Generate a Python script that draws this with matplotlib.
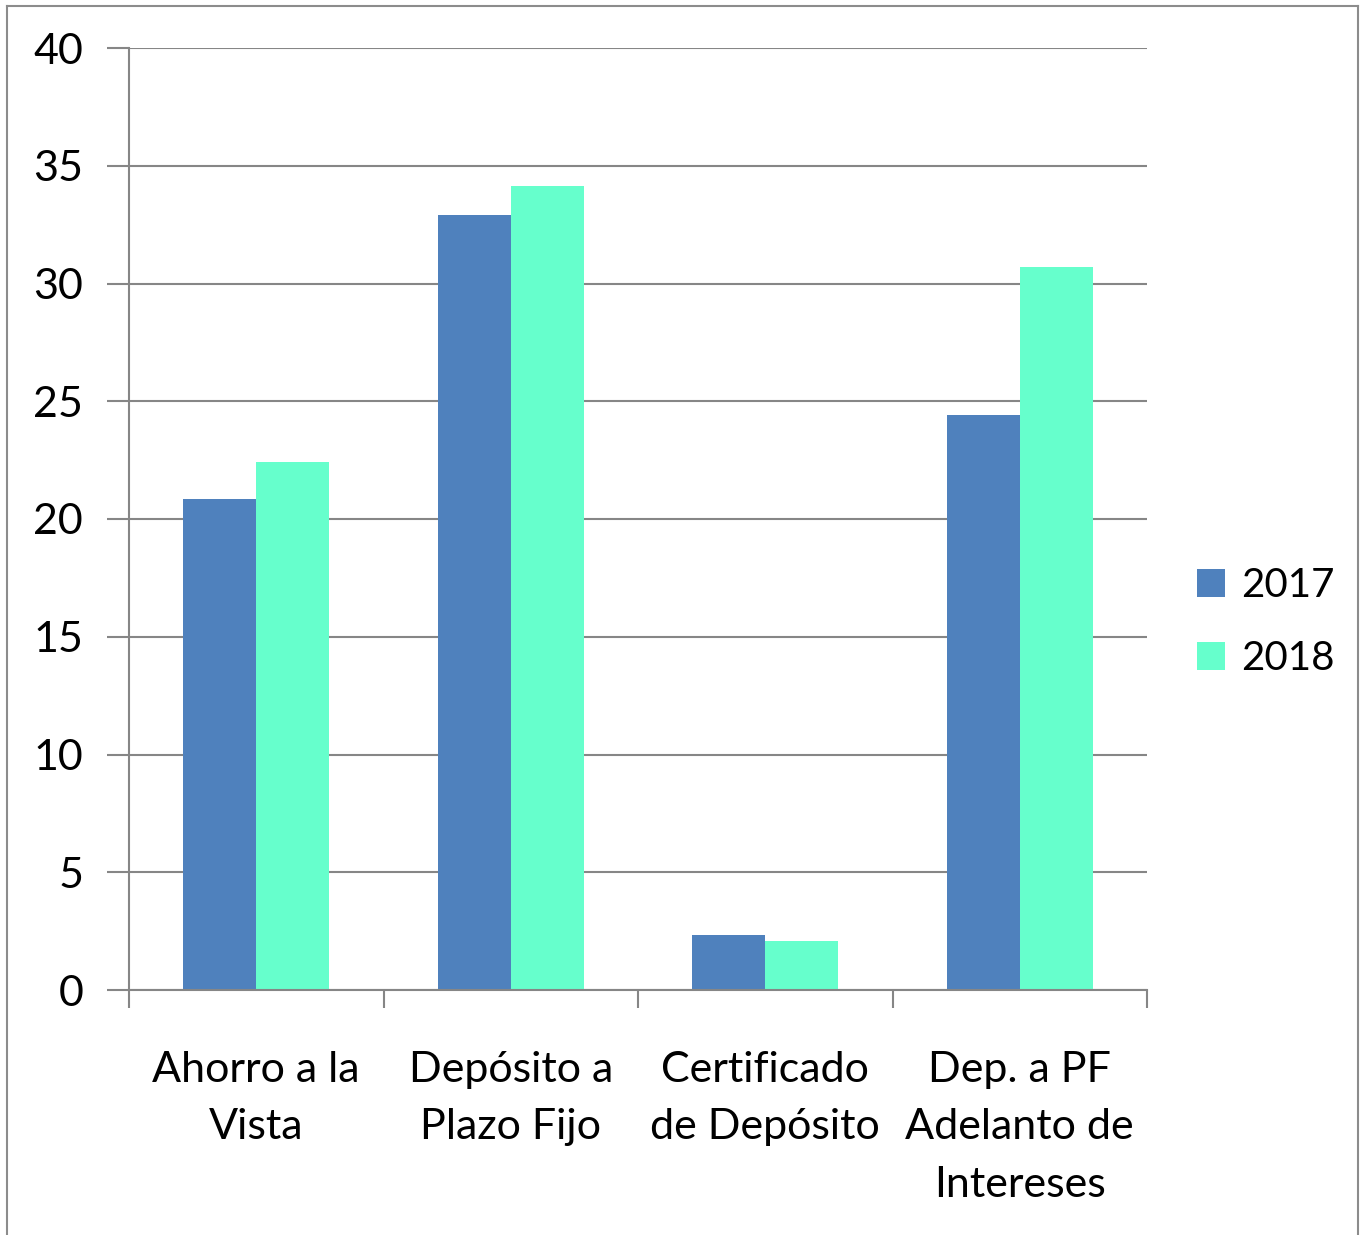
import matplotlib.pyplot as plt
import numpy as np
from matplotlib.patches import Patch
from matplotlib.lines import Line2D

# Data
categories = ['Ahorro a la\nVista', 'Depósito a\nPlazo Fijo', 'Certificado\nde Depósito', 'Dep. a PF\nAdelanto de\nIntereses']
values_2017 = [20.85, 32.9, 2.35, 24.4]
values_2018 = [22.4, 34.15, 2.1, 30.7]
series_labels = ['2017', '2018']
y_ticks = [0, 5, 10, 15, 20, 25, 30, 35, 40]

color_2017 = '#4F81BD'
color_2018 = '#66FFCC'
axis_gray = '#868686'

plt.rcParams['font.family'] = ['Lato', 'DejaVu Sans']

fig = plt.figure(figsize=(13.61, 12.35), dpi=100)
ax = fig.add_axes([129 / 1361, 1 - 990 / 1235, (1147 - 129) / 1361, (990 - 48) / 1235])

x = np.arange(len(categories))
w = 0.287
ax.bar(x - w / 2, values_2017, width=w, color=color_2017, label=series_labels[0], zorder=2)
ax.bar(x + w / 2, values_2018, width=w, color=color_2018, label=series_labels[1], zorder=2)

ax.set_xlim(-0.5, len(categories) - 0.5)
ax.set_ylim(0, 40)
ax.set_yticks(y_ticks)
ax.set_yticklabels([str(t) for t in y_ticks], fontsize=31)
ax.yaxis.grid(True, color=axis_gray, linewidth=1.5, zorder=0)
ax.set_axisbelow(True)

# category labels centered, ticks at boundaries
ax.set_xticks(x)
ax.set_xticklabels(categories, fontsize=31, linespacing=1.62)
ax.tick_params(axis='x', length=0, pad=44)
ax.set_xticks(np.arange(-0.5, len(categories)), minor=True)
ax.tick_params(axis='x', which='minor', length=13, width=1.5, color=axis_gray)
ax.tick_params(axis='y', length=16, width=1.5, color=axis_gray, pad=17)

for s in ['top', 'right']:
    ax.spines[s].set_visible(False)
for s in ['left', 'bottom']:
    ax.spines[s].set_color(axis_gray)
    ax.spines[s].set_linewidth(1.5)

legend_elements = [
    Patch(facecolor=color_2017, label=series_labels[0]),
    Patch(facecolor=color_2018, label=series_labels[1]),
]
fig.legend(handles=legend_elements, loc='center left', bbox_to_anchor=(1165 / 1361, 1 - 622 / 1235),
           frameon=False, fontsize=29, handlelength=0.68, handleheight=0.68, handletextpad=0.4,
           labelspacing=0.9, borderpad=0.3)

# outer chart border (left, top, right)
border = dict(color='#8c8c8c', linewidth=1.5, transform=fig.transFigure)
fig.add_artist(Line2D([7 / 1361, 7 / 1361], [0, 1 - 6 / 1235], **border))
fig.add_artist(Line2D([7 / 1361, 1358 / 1361], [1 - 6 / 1235, 1 - 6 / 1235], **border))
fig.add_artist(Line2D([1358 / 1361, 1358 / 1361], [0, 1 - 6 / 1235], **border))

plt.savefig('out.png', dpi=100)
